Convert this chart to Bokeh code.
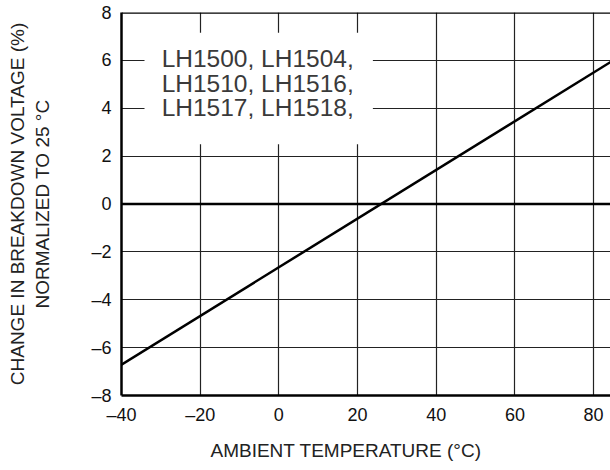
from bokeh.plotting import figure
from bokeh.models import Span, Title, FixedTicker, Range1d
from bokeh.core.properties import value
from bokeh.embed import file_html
from bokeh.resources import INLINE

# ---- data ----
temps = [-40, 85]
change = [-6.71, 6.0]
x_ticks = [-40, -20, 0, 20, 40, 60, 80]
x_tick_labels = ["–40", "–20", "0", "20", "40", "60", "80"]
y_ticks = [-8, -6, -4, -2, 0, 2, 4, 6, 8]
y_tick_labels = ["–8", "–6", "–4", "–2", "0", "2", "4", "6", "8"]
note_lines = ["LH1500, LH1504,", "LH1510, LH1516,", "LH1517, LH1518,"]
note_y = [6.08, 5.05, 4.02]
x_title = "AMBIENT TEMPERATURE (°C)"
y_title = "CHANGE IN BREAKDOWN VOLTAGE (%)\nNORMALIZED TO 25 °C"

FONT = "Liberation Sans"

p = figure(width=610, height=470, output_backend="svg", toolbar_location=None,
           x_range=Range1d(-40, 84.3), y_range=Range1d(-8, 8),
           min_border_left=121, min_border_right=0, min_border_top=12, min_border_bottom=73)
p.outline_line_color = None
p.background_fill_color = "white"
p.border_fill_color = "white"

# grids
p.xgrid.ticker = FixedTicker(ticks=x_ticks)
p.ygrid.ticker = FixedTicker(ticks=y_ticks)
for g in (p.xgrid, p.ygrid):
    g.grid_line_color = "#222222"
    g.grid_line_width = 1.2
    g.grid_line_alpha = 1.0

# axes
for ax in (p.xaxis, p.yaxis):
    ax.major_tick_line_color = None
    ax.minor_tick_line_color = None
    ax.axis_line_color = "black"
    ax.axis_line_width = 2.5
    ax.major_label_text_font = FONT
    ax.major_label_text_font_size = "18px"
    ax.major_label_text_color = "#111111"
p.xaxis.ticker = FixedTicker(ticks=x_ticks)
p.yaxis.ticker = FixedTicker(ticks=y_ticks)
p.xaxis.major_label_overrides = {t: s for t, s in zip(x_ticks, x_tick_labels)}
p.yaxis.major_label_overrides = {t: s for t, s in zip(y_ticks, y_tick_labels)}
p.xaxis.major_label_standoff = 3
p.yaxis.major_label_standoff = 4

p.yaxis.axis_label = y_title
p.yaxis.axis_label_text_font = FONT
p.yaxis.axis_label_text_font_size = "19px"
p.yaxis.axis_label_text_font_style = "normal"
p.yaxis.axis_label_text_color = "#222222"
p.yaxis.axis_label_standoff = 35

# x title below axis, placed like the reference
p.add_layout(Title(text=x_title, align="left", offset=89, standoff=20,
                   text_font=FONT, text_font_size="19px", text_font_style="normal",
                   text_color="#222222"), "below")

# white box behind the note text
p.quad(left=-34.15, right=23.9, bottom=2.5, top=7.15, fill_color="white", line_color=None)

# top border and zero line
p.add_layout(Span(location=8, dimension="width", line_color="black", line_width=2.5))
p.add_layout(Span(location=0, dimension="width", line_color="black", line_width=2.5))

# data line
p.line(temps, change, line_color="black", line_width=2.5)

# note text
p.text(x=[-29.8] * len(note_lines), y=note_y, text=note_lines,
       text_font=value(FONT), text_font_size="24.5px", text_baseline="alphabetic",
       text_align="left", text_color="#3a3a3a")

open("out.html", "w").write(file_html(p, INLINE))
